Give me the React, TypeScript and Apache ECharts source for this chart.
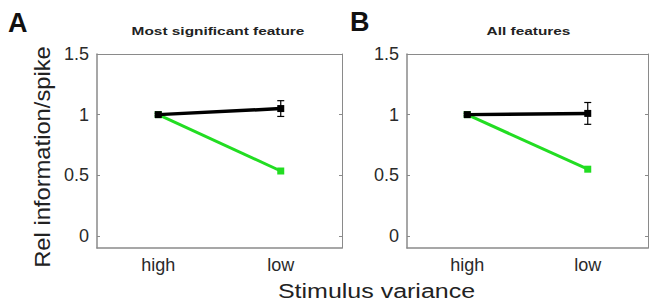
import React, { useEffect, useRef } from "react";
import * as echarts from "echarts";

const categories = ["high", "low"];
const yTicks = [0, 0.5, 1, 1.5];
const titles = ["Most significant feature", "All features"];
const panelLetters = ["A", "B"];
const yAxisTitle = "Rel information/spike";
const xAxisTitle = "Stimulus variance";
const blackA = [1.0, 1.05];
const blackErrA = [0.01, 0.065];
const greenA = [1.0, 0.535];
const blackB = [1.0, 1.01];
const blackErrB = [0.01, 0.09];
const greenB = [1.0, 0.55];

const gridsPos = [
  { left: 97, top: 54, width: 245, height: 194 },
  { left: 407, top: 54, width: 241, height: 194 },
];

const FONT = "Arial, Liberation Sans, sans-serif";

export default function App() {
  const ref = useRef<HTMLDivElement>(null);
  useEffect(() => {
    const chart = echarts.init(ref.current!, null, { renderer: "svg" });
    const axisGray = "#8a8a8a";
    const textColor = "#2a2a2a";
    const xAxes: any[] = [];
    const yAxes: any[] = [];
    gridsPos.forEach((_, i) => {
      xAxes.push({
        type: "category",
        gridIndex: i,
        data: categories,
        boundaryGap: true,
        axisLine: { onZero: false, lineStyle: { color: axisGray, width: 1.5 } },
        axisTick: { alignWithLabel: true, inside: true, length: 3, lineStyle: { color: axisGray } },
        axisLabel: { color: textColor, fontSize: 18, fontFamily: FONT, margin: 8 },
        splitLine: { show: false },
      });
      xAxes.push({
        type: "category",
        gridIndex: i,
        position: "top",
        data: categories,
        boundaryGap: true,
        axisLine: { onZero: false, lineStyle: { color: axisGray, width: 1 } },
        axisTick: { alignWithLabel: true, inside: true, length: 3, lineStyle: { color: axisGray } },
        axisLabel: { show: false },
      });
      yAxes.push({
        type: "value",
        gridIndex: i,
        min: -0.1,
        max: 1.5,
        axisLine: { show: true, onZero: false, lineStyle: { color: axisGray, width: 1.5 } },
        axisTick: { show: true, inside: true, length: 3, customValues: yTicks, lineStyle: { color: axisGray } },
        axisLabel: {
          color: textColor,
          fontSize: 18,
          fontFamily: FONT,
          margin: 8,
          customValues: yTicks,
          formatter: (v: number) => String(v),
        },
        splitLine: { show: false },
      });
      yAxes.push({
        type: "value",
        gridIndex: i,
        position: "right",
        min: -0.1,
        max: 1.5,
        axisLine: { show: true, onZero: false, lineStyle: { color: axisGray, width: 1 } },
        axisTick: { show: true, inside: true, length: 3, customValues: yTicks, lineStyle: { color: axisGray } },
        axisLabel: { show: false },
        splitLine: { show: false },
      });
    });

    const errSeries = (gi: number, vals: number[], errs: number[]) => ({
      type: "custom",
      xAxisIndex: gi * 2,
      yAxisIndex: gi * 2,
      z: 5,
      data: vals.map((v, k) => [k, v - errs[k], v + errs[k]]),
      renderItem: (params: any, api: any) => {
        const lo = api.coord([api.value(0), api.value(1)]);
        const hi = api.coord([api.value(0), api.value(2)]);
        const w = 3.5;
        return {
          type: "group",
          children: [
            { type: "line", shape: { x1: lo[0], y1: lo[1], x2: hi[0], y2: hi[1] }, style: { stroke: "#000", lineWidth: 1.2 } },
            { type: "line", shape: { x1: lo[0] - w, y1: lo[1], x2: lo[0] + w, y2: lo[1] }, style: { stroke: "#000", lineWidth: 1.2 } },
            { type: "line", shape: { x1: hi[0] - w, y1: hi[1], x2: hi[0] + w, y2: hi[1] }, style: { stroke: "#000", lineWidth: 1.2 } },
          ],
        };
      },
    });

    const lineSeries = (gi: number, vals: number[], color: string, z: number, width: number) => ({
      type: "line",
      xAxisIndex: gi * 2,
      yAxisIndex: gi * 2,
      data: vals,
      z,
      symbol: "rect",
      symbolSize: 7,
      itemStyle: { color },
      lineStyle: { color, width },
    });

    const option: any = {
      animation: false,
      grid: gridsPos.map((g) => ({ ...g, show: false })),
      xAxis: xAxes,
      yAxis: yAxes,
      series: [
        lineSeries(0, greenA, "#22dd22", 3, 3),
        lineSeries(0, blackA, "#000", 4, 3.5),
        errSeries(0, blackA, blackErrA),
        lineSeries(1, greenB, "#22dd22", 3, 3),
        lineSeries(1, blackB, "#000", 4, 3.5),
        errSeries(1, blackB, blackErrB),
      ],
      graphic: [
        { type: "text", x: 8, y: 22.5, style: { text: panelLetters[0], fontSize: 27, fontWeight: "bold", fill: "#111", verticalAlign: "middle", fontFamily: FONT } },
        { type: "text", x: 350, y: 21.5, style: { text: panelLetters[1], fontSize: 27, fontWeight: "bold", fill: "#111", verticalAlign: "middle", fontFamily: FONT } },
        { type: "text", x: 218, y: 31, scaleX: 1.4, style: { text: titles[0], fontSize: 11, fontWeight: "bold", fill: "#222", align: "center", verticalAlign: "middle", fontFamily: FONT } },
        { type: "text", x: 528.5, y: 31, scaleX: 1.4, style: { text: titles[1], fontSize: 11, fontWeight: "bold", fill: "#222", align: "center", verticalAlign: "middle", fontFamily: FONT } },
        { type: "text", x: 42, y: 157, rotation: Math.PI / 2, scaleX: 1.08, style: { text: yAxisTitle, fontSize: 22, fill: "#222", align: "center", verticalAlign: "middle", fontFamily: FONT } },
        { type: "text", x: 376.5, y: 291, scaleX: 1.25, style: { text: xAxisTitle, fontSize: 20, fill: "#222", align: "center", verticalAlign: "middle", fontFamily: FONT } },
      ],
    };
    chart.setOption(option);
    return () => chart.dispose();
  }, []);
  return <div ref={ref} style={{ width: 649, height: 305, position: "absolute", left: 0, top: 0 }} />;
}
